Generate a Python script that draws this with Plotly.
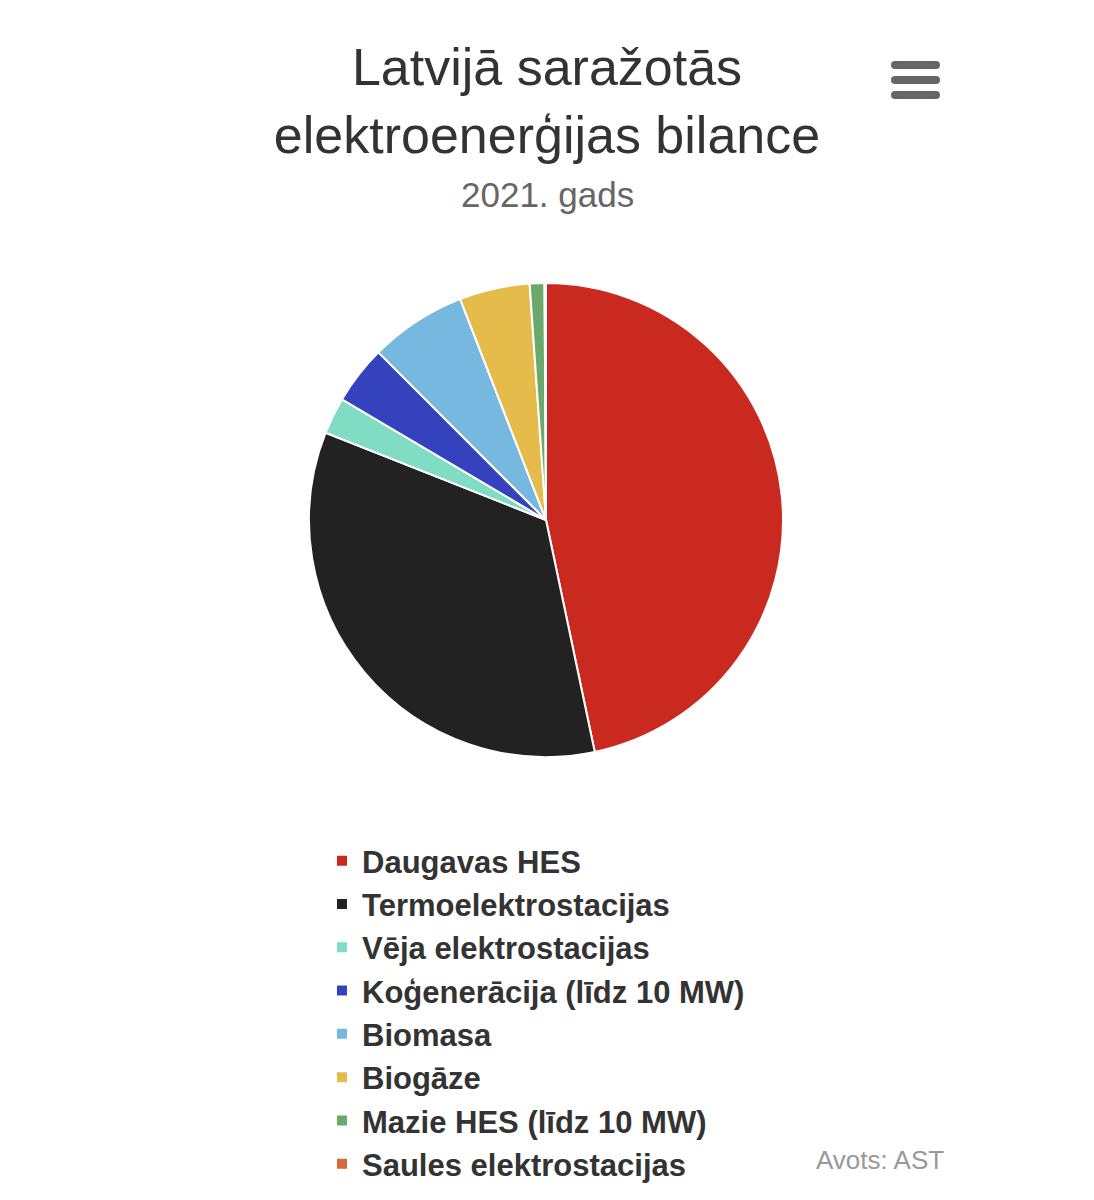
import plotly.graph_objects as go

labels = [
    "Daugavas HES",
    "Termoelektrostacijas",
    "Vēja elektrostacijas",
    "Koģenerācija (līdz 10 MW)",
    "Biomasa",
    "Biogāze",
    "Mazie HES (līdz 10 MW)",
    "Saules elektrostacijas",
]
shares = [46.7, 34.3, 2.5, 4.0, 6.6, 4.8, 1.0, 0.1]
colors = ["#c9291f", "#222222", "#80dcc3", "#3442bd", "#76b8e0", "#e5bb4b", "#6aa96b", "#d4693a"]

W, H = 1094, 1200
OFF = 8  # page body margin


def px(x):
    return (x - OFF) / W


def py(y):
    return 1 - (y - OFF) / H


cx, cy, r = 546, 520, 237

fig = go.Figure(
    go.Pie(
        labels=labels,
        values=shares,
        sort=False,
        direction="clockwise",
        rotation=0,
        textinfo="none",
        marker=dict(colors=colors, line=dict(color="white", width=2)),
        domain=dict(x=[px(cx - r), px(cx + r)], y=[py(cy + r), py(cy - r)]),
    )
)

shapes = []
for yy in (65, 80, 95):
    shapes.append(dict(type="line", xref="paper", yref="paper",
                       x0=px(895), x1=px(936), y0=py(yy), y1=py(yy),
                       line=dict(color="#666666", width=8)))
    for xc in (895, 936):
        shapes.append(dict(type="circle", xref="paper", yref="paper",
                           x0=px(xc - 4), x1=px(xc + 4), y0=py(yy + 4), y1=py(yy - 4),
                           fillcolor="#666666", line=dict(width=0)))

fig.update_layout(
    width=W,
    height=H,
    margin=dict(l=0, r=0, t=0, b=0),
    paper_bgcolor="white",
    plot_bgcolor="white",
    font=dict(family="Liberation Sans, Arial, sans-serif", color="#333333"),
    title=dict(
        text="Latvijā saražotās<br>elektroenerģijas bilance",
        x=px(547),
        xanchor="center",
        y=1 - 77 / H,
        yanchor="top",
        font=dict(size=52, color="#333333"),
    ),
    legend=dict(
        x=314 / W,
        xanchor="left",
        y=1 - 826 / H,
        yanchor="top",
        orientation="v",
        font=dict(size=31, color="#333333", family="Liberation Sans, Arial, sans-serif", weight="bold"),
        itemclick=False,
        itemdoubleclick=False,
        tracegroupgap=0,
    ),
    annotations=[
        dict(
            text="2021. gads",
            x=px(547),
            y=py(195),
            xref="paper",
            yref="paper",
            xanchor="center",
            yanchor="middle",
            showarrow=False,
            font=dict(size=35, color="#666666"),
        ),
        dict(
            text="Avots: AST",
            x=px(946),
            y=py(1160),
            xref="paper",
            yref="paper",
            xanchor="right",
            yanchor="middle",
            showarrow=False,
            font=dict(size=26, color="#999999"),
        ),
    ],
    shapes=shapes,
)

fig.write_html("out.html")
